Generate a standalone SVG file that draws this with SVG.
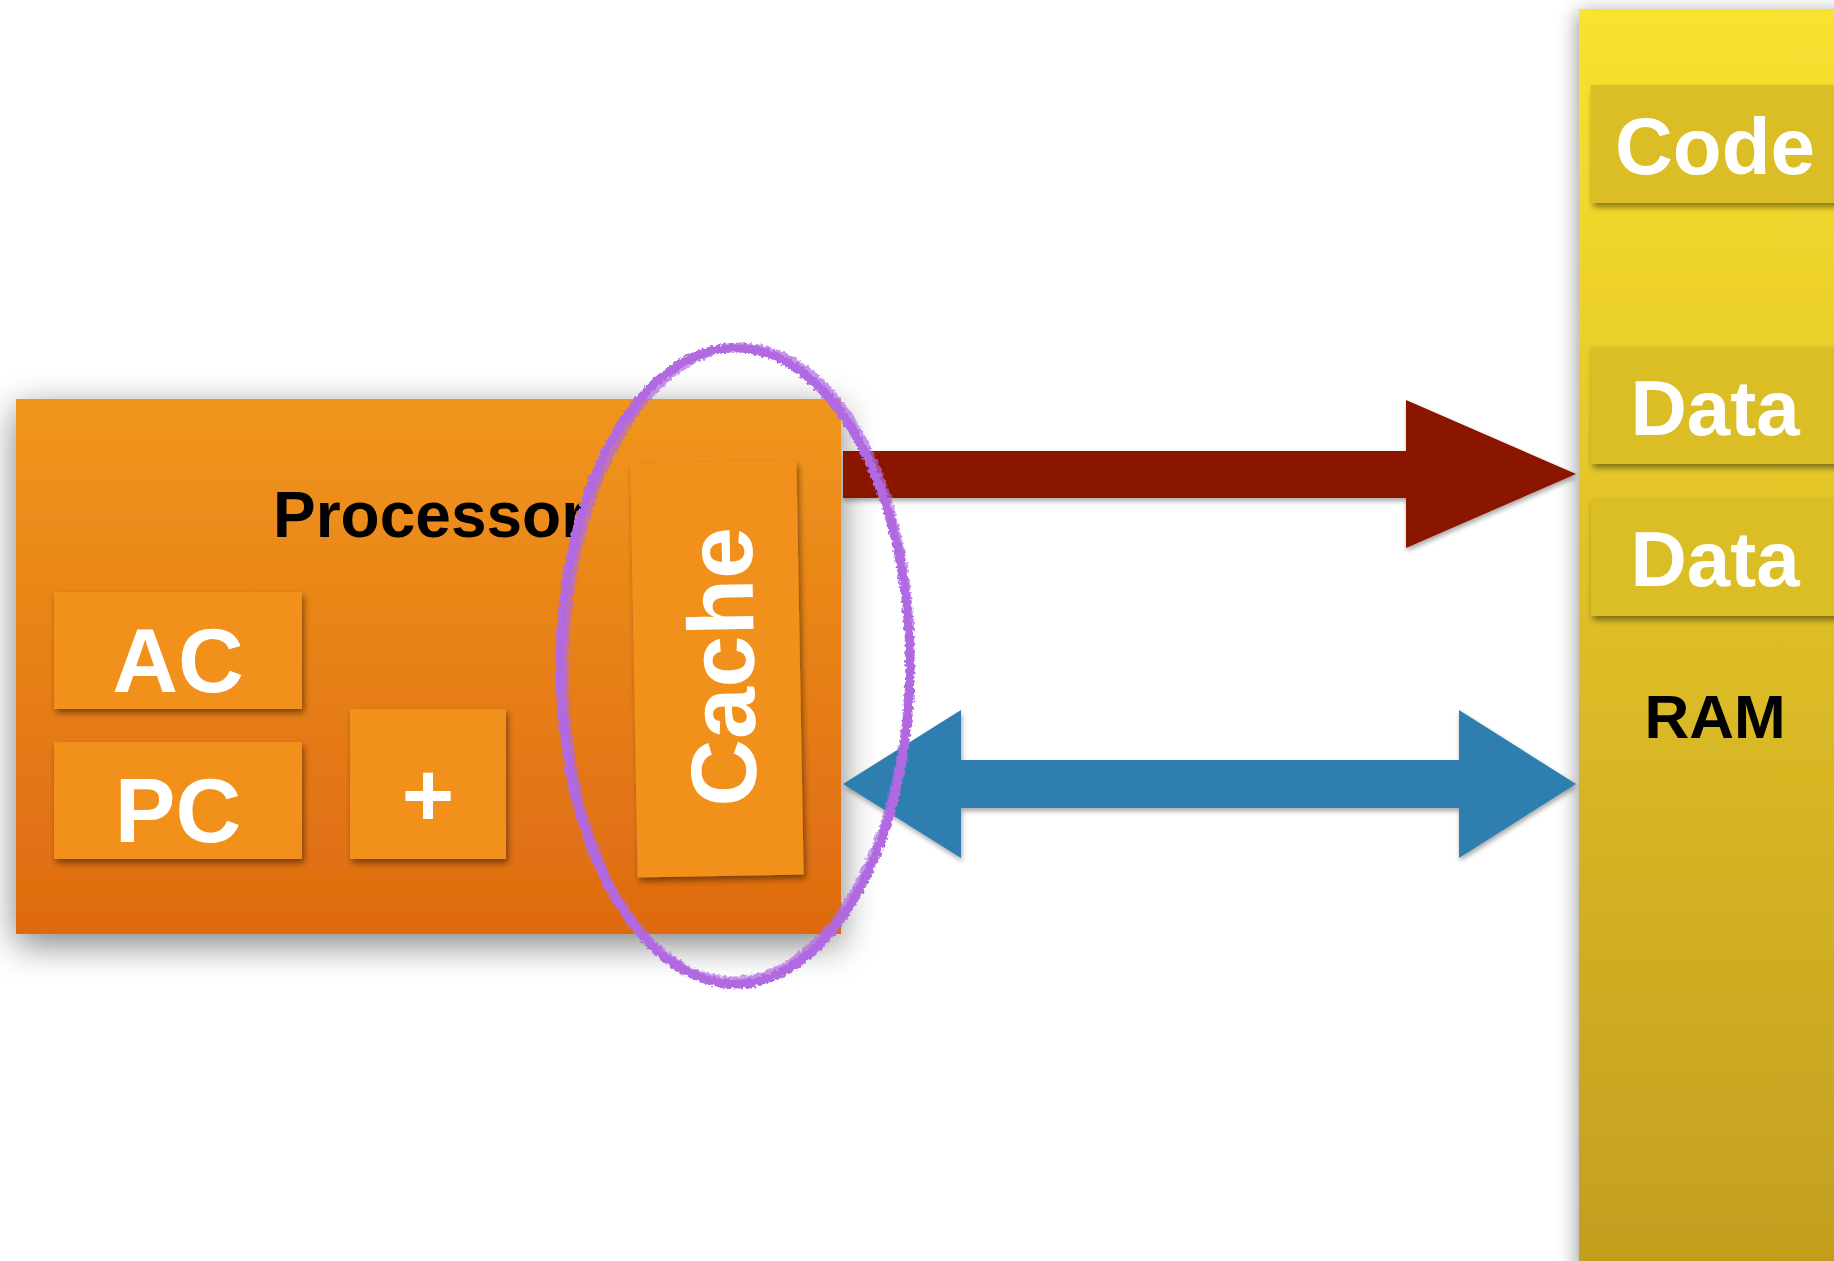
<svg xmlns="http://www.w3.org/2000/svg" width="1834" height="1261" viewBox="0 0 1834 1261">
  <defs>
    <linearGradient id="procFill" x1="0" y1="0" x2="0" y2="1">
      <stop offset="0" stop-color="#F0961D"/>
      <stop offset="1" stop-color="#DE6A10"/>
    </linearGradient>
    <linearGradient id="ramFill" x1="0" y1="0" x2="0" y2="1">
      <stop offset="0" stop-color="#FAE230"/>
      <stop offset="0.5" stop-color="#DDBD26"/>
      <stop offset="1" stop-color="#C29E1F"/>
    </linearGradient>
    <filter id="bigShadow" x="-20%" y="-20%" width="140%" height="150%">
      <feGaussianBlur in="SourceAlpha" stdDeviation="18"/>
      <feOffset dx="0" dy="10" result="b"/>
      <feComponentTransfer><feFuncA type="linear" slope="0.5"/></feComponentTransfer>
      <feMerge><feMergeNode/><feMergeNode in="SourceGraphic"/></feMerge>
    </filter>
    <filter id="ramShadow" x="-20%" y="-5%" width="140%" height="110%">
      <feGaussianBlur in="SourceAlpha" stdDeviation="10"/>
      <feOffset dx="-2" dy="4"/>
      <feComponentTransfer><feFuncA type="linear" slope="0.4"/></feComponentTransfer>
      <feMerge><feMergeNode/><feMergeNode in="SourceGraphic"/></feMerge>
    </filter>
    <filter id="boxShadow" x="-10%" y="-10%" width="125%" height="130%">
      <feGaussianBlur in="SourceAlpha" stdDeviation="3"/>
      <feOffset dx="2" dy="4"/>
      <feComponentTransfer><feFuncA type="linear" slope="0.45"/></feComponentTransfer>
      <feMerge><feMergeNode/><feMergeNode in="SourceGraphic"/></feMerge>
    </filter>
    <filter id="arrowShadow" x="-5%" y="-20%" width="110%" height="140%">
      <feGaussianBlur in="SourceAlpha" stdDeviation="2.5"/>
      <feOffset dx="1" dy="3"/>
      <feComponentTransfer><feFuncA type="linear" slope="0.35"/></feComponentTransfer>
      <feMerge><feMergeNode/><feMergeNode in="SourceGraphic"/></feMerge>
    </filter>
    <filter id="crayon" x="-10%" y="-10%" width="120%" height="120%">
      <feTurbulence type="fractalNoise" baseFrequency="0.3" numOctaves="2" seed="4" result="n"/>
      <feDisplacementMap in="SourceGraphic" in2="n" scale="6" xChannelSelector="R" yChannelSelector="G"/>
    </filter>
    <style>
      .inner { fill: #F2901C; }
      .slot { fill: #DBBD27; }
      .wlabel { fill: #FFFFFF; font-family: "Liberation Sans", Arial, sans-serif; font-weight: bold; }
      .blabel { fill: #000000; font-family: "Liberation Sans", Arial, sans-serif; font-weight: bold; }
      .ring { fill: none; stroke: #B16AE2; stroke-width: 9; }
    </style>
  </defs>

  <rect width="1834" height="1261" fill="#FFFFFF"/>

  <!-- CPU block -->
  <g id="processor">
    <rect x="16" y="399" width="825" height="535" fill="url(#procFill)" filter="url(#bigShadow)"/>
    <text class="blabel" x="273" y="537" font-size="64">Processor</text>
  </g>
  <g id="ac">
    <rect class="inner" x="54" y="592" width="248" height="117" filter="url(#boxShadow)"/>
    <text class="wlabel" x="178" y="692" font-size="91" text-anchor="middle">AC</text>
  </g>
  <g id="pc">
    <rect class="inner" x="54" y="742" width="248" height="117" filter="url(#boxShadow)"/>
    <text class="wlabel" x="178" y="842" font-size="91" text-anchor="middle">PC</text>
  </g>
  <g id="adder">
    <rect class="inner" x="350" y="709" width="156" height="150" filter="url(#boxShadow)"/>
    <text class="wlabel" x="428" y="826" font-size="90" text-anchor="middle">+</text>
  </g>
  <g id="cache" transform="rotate(-1 717 669)">
    <rect class="inner" x="634" y="462" width="166" height="414" filter="url(#boxShadow)"/>
    <text class="wlabel" x="0" y="0" font-size="93" text-anchor="middle" transform="translate(754 667) rotate(-90)">Cache</text>
  </g>

  <!-- memory column -->
  <g id="ram">
    <rect x="1579" y="9" width="270" height="1262" fill="url(#ramFill)" filter="url(#ramShadow)"/>
    <text class="blabel" x="1715" y="738" font-size="62" text-anchor="middle">RAM</text>
  </g>
  <g id="code">
    <rect class="slot" x="1591" y="85" width="260" height="118" filter="url(#boxShadow)"/>
    <text class="wlabel" x="1715" y="174" font-size="80" text-anchor="middle">Code</text>
  </g>
  <g id="data1">
    <rect class="slot" x="1591" y="347" width="260" height="117" filter="url(#boxShadow)"/>
    <text class="wlabel" x="1715" y="435" font-size="78" text-anchor="middle">Data</text>
  </g>
  <g id="data2">
    <rect class="slot" x="1591" y="499" width="260" height="117" filter="url(#boxShadow)"/>
    <text class="wlabel" x="1715" y="586" font-size="78" text-anchor="middle">Data</text>
  </g>

  <!-- buses between CPU and memory -->
  <g id="connectors">
    <polygon fill="#8A1203" filter="url(#arrowShadow)" points="843,451 1406,451 1406,400 1576,474 1406,548 1406,498 843,498"/>
    <polygon fill="#2E7EAF" filter="url(#arrowShadow)" points="843,784 961,710 961,760 1459,760 1459,710 1576,784 1459,858 1459,808 961,808 961,858"/>
  </g>

  <!-- hand-drawn highlight around the cache -->
  <g id="highlight" filter="url(#crayon)">
    <ellipse class="ring" cx="735" cy="666" rx="175" ry="318"/>
    <ellipse class="ring" cx="737" cy="664" rx="173" ry="317" stroke-width="3" opacity="0.7" transform="rotate(1 735 666)"/>
  </g>
</svg>
